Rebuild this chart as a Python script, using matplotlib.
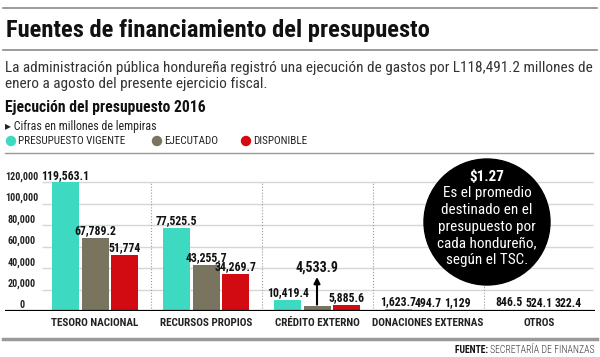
import matplotlib
matplotlib.use("Agg")
import matplotlib.pyplot as plt
from matplotlib import font_manager
from matplotlib.patches import Ellipse
from matplotlib.lines import Line2D
import numpy as np

# datos (millones de lempiras)
categorias = ["TESORO NACIONAL", "RECURSOS PROPIOS", "CRÉDITO EXTERNO",
              "DONACIONES EXTERNAS", "OTROS"]
vigente = [119563.1, 77525.5, 10419.4, 1623.7, 846.5]
ejecutado = [67789.2, 43255.7, 4533.9, 494.7, 524.1]
disponible = [51774, 34269.7, 5885.6, 1129, 322.4]
txt_vigente = ["119,563.1", "77,525.5", "10,419.4", "1,623.7", "846.5"]
txt_ejecutado = ["67,789.2", "43,255.7", "4,533.9", "494.7", "524.1"]
txt_disponible = ["51,774", "34,269.7", "5,885.6", "1,129", "322.4"]
yticks = [0, 20000, 40000, 60000, 80000, 100000, 120000]
ytick_txt = ["0", "20,000", "40,000", "60,000", "80,000", "100,000", "120,000"]
series = ["PRESUPUESTO VIGENTE", "EJECUTADO", "DISPONIBLE"]

TEAL = "#3dd9c1"
GRIS = "#79745f"
ROJO = "#d20a11"

names = {f.name for f in font_manager.fontManager.ttflist}
base = "DejaVu Sans"
for fam in ["Liberation Sans Narrow", "Roboto Condensed", "Open Sans Condensed", "Lato"]:
    if fam in names:
        base = fam
        break
plt.rcParams["font.family"] = [base, "DejaVu Sans"]

W, H = 600, 357
fig = plt.figure(figsize=(W / 100, H / 100), dpi=100)
renderer = fig.canvas.get_renderer()


def fx(x):
    return x / W


def fy(y):
    return 1 - y / H


def fit(t, width_px):
    w = t.get_window_extent(renderer).width
    t.set_fontsize(t.get_fontsize() * width_px / w)
    return t.get_fontsize()


def hline(y, x0, x1, color, lw):
    fig.add_artist(Line2D([fx(x0), fx(x1)], [fy(y), fy(y)], color=color, lw=lw,
                          transform=fig.transFigure))


# cabecera
hline(8, 3, 597, "#8a8a8a", 1.2)
t = fig.text(fx(6), fy(30), "Fuentes de financiamiento del presupuesto", fontsize=16,
             fontweight="heavy", color="#111111", va="center")
fit(t, 422)
hline(50, 3, 597, "#8a8a8a", 1.2)
t = fig.text(fx(5), fy(68), "La administración pública hondureña registró una ejecución de "
             "gastos por L118,491.2 millones de", fontsize=10, color="#333333", va="center")
s = fit(t, 584)
fig.text(fx(5), fy(84), "enero a agosto del presente ejercicio fiscal.", fontsize=s,
         color="#333333", va="center")
t = fig.text(fx(5), fy(107), "Ejecución del presupuesto 2016", fontsize=10,
             fontweight="bold", color="#111111", va="center")
fit(t, 200)
t = fig.text(fx(5), fy(126), "▸ Cifras en millones de lempiras", fontsize=7,
             color="#222222", va="center")
fit(t, 152)

# leyenda
ley_x = [11, 157, 246]
for lx, nombre, c in zip(ley_x, series, [TEAL, GRIS, ROJO]):
    fig.add_artist(Ellipse((fx(lx), fy(141)), 9 / W, 9 / H, color=c,
                           transform=fig.transFigure))
    t = fig.text(fx(lx + 7), fy(141), nombre, fontsize=7.5, color="#222222", va="center")
    if nombre == series[0]:
        s_ley = fit(t, 107)
    else:
        t.set_fontsize(s_ley)
hline(153, 5, 593, "#999999", 1.0)

# grafico
ax = fig.add_axes([fx(5), fy(311), (595 - 5) / W, (311 - 153) / H])
px_unit = 129 / 120000


def dx(xp):
    return (xp - 95) / 111


ax.set_xlim(dx(5), dx(595))
ax.set_ylim(0, (311 - 153) / px_unit)
ax.axis("off")

x = np.arange(len(categorias))
off = 29.5 / 111
w = 27 / 111
ax.hlines(yticks[1:], dx(42), dx(593), color="#d6d6d6", lw=1, zorder=0)
ax.vlines(x[:-1] + 0.5, 0, 120000, colors="#9a9a9a", linestyles=":", lw=0.8, zorder=0)
ax.bar(x - off, vigente, width=w, color=TEAL, zorder=2)
ax.bar(x, ejecutado, width=w, color=GRIS, zorder=2)
ax.bar(x + off, disponible, width=w, color=ROJO, zorder=2)
ax.axhline(0, color="black", lw=1.6, zorder=3)

for v, lbl in zip(yticks, ytick_txt):
    t = ax.annotate(lbl, xy=(dx(22), v), xytext=(0, 4), textcoords="offset points",
                    ha="center", va="center", fontsize=8, color="#222222",
                    fontweight="semibold")
    if lbl == "120,000":
        t_ref = t
s_tick = fit(t_ref, 33)
for tx in ax.texts:
    tx.set_fontsize(s_tick)

vals = []
for dxo, valores, textos in [(-off, vigente, txt_vigente), (0, ejecutado, txt_ejecutado),
                             (off, disponible, txt_disponible)]:
    for i, (v, lbl) in enumerate(zip(valores, textos)):
        if lbl == "4,533.9":
            ax.text(i + dxo, (311 - 268) / px_unit, lbl, ha="center", va="center",
                    fontsize=10, color="#111111", fontweight="semibold")
            ax.annotate("", xy=(i + dxo, (311 - 277) / px_unit),
                        xytext=(i + dxo, v + 1.5 / px_unit),
                        arrowprops=dict(arrowstyle="-|>", color="black", lw=1.5,
                                        mutation_scale=9, shrinkA=0, shrinkB=0))
            vals.append(ax.texts[-1])
        else:
            vals.append(ax.annotate(lbl, xy=(i + dxo, v), xytext=(0, 5.3),
                                    textcoords="offset points", ha="center", va="center",
                                    fontsize=10, color="#111111", fontweight="semibold"))
s_val = fit(vals[0], 48.5)
for tx in vals:
    tx.set_fontsize(s_val)

cats = []
for i, c in enumerate(categorias):
    cats.append(ax.text(i, (311 - 323) / px_unit, c, ha="center", va="center",
                        fontsize=8, color="#222222", fontweight="semibold", clip_on=False))
s_cat = fit(cats[0], 87)
for tx in cats:
    tx.set_fontsize(s_cat)

# circulo
fig.add_artist(Ellipse((fx(487), fy(222)), 126 / W, 126 / H, color="black",
                       transform=fig.transFigure, zorder=5))
t = fig.text(fx(487), fy(177), "$1.27", ha="center", va="center", color="white",
             fontweight="bold", fontsize=11, zorder=6)
fit(t, 35)
lineas = ["Es el promedio", "destinado en el", "presupuesto por", "cada hondureño,",
          "según el TSC."]
ys = [193, 210, 227, 243, 260]
circ = [fig.text(fx(487), fy(yy), l, ha="center", va="center", color="white",
                 fontsize=10.5, zorder=6) for l, yy in zip(lineas, ys)]
s_c = fit(circ[2], 98)
for tx in circ:
    tx.set_fontsize(s_c)

# pie
hline(339, 3, 597, "#999999", 2.5)
t2 = fig.text(fx(595), fy(350), "SECRETARÍA DE FINANZAS", ha="right", va="center",
              fontsize=7, color="#333333", fontweight="light")
t1 = fig.text(fx(595), fy(350), "FUENTE: ", ha="right", va="center",
              fontsize=7, color="#111111", fontweight="bold")
w2 = t2.get_window_extent(renderer).width
t1.set_x(fx(595 - w2))

fig.savefig("out.png", dpi=100)
